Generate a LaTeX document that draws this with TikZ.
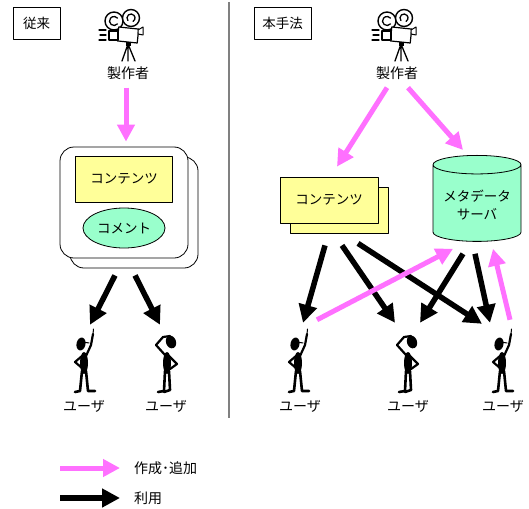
\documentclass[tikz,border=0pt]{standalone}
\usepackage{fontspec}
\setmainfont{Noto Sans CJK JP}
\usetikzlibrary{arrows.meta,shapes.geometric}
\definecolor{makepink}{RGB}{255,112,255}
\definecolor{notepaper}{RGB}{255,255,153}
\definecolor{mint}{RGB}{153,255,204}

\begin{document}
\begin{tikzpicture}[x=1pt,y=-1pt,line join=round,line cap=round]
	\tikzset{every node/.style={font=\fontsize{13.5}{18}\selectfont},
		tag/.style={draw,line width=0.8pt,minimum height=32pt,inner sep=2pt},
		lbl/.style={inner sep=1pt,font=\fontsize{14}{18}\selectfont},
		doc/.style={draw,line width=0.8pt,fill=notepaper,minimum width=98pt,minimum height=46pt},
		card/.style={draw,line width=0.8pt,fill=white,rounded corners=14pt,minimum width=128pt,minimum height=111pt},
		spot/.style={inner sep=0pt,minimum width=24pt,minimum height=62pt},
		makearrow/.style={draw=makepink,line width=5pt,line cap=butt,-{Triangle[length=17pt,width=17pt]}},
		usearrow/.style={draw=black,line width=5.5pt,line cap=butt,-{Triangle[length=18pt,width=18pt]}},
		camera/.pic={
			\draw[line width=1.4pt,fill=white] (-14,-14) circle (9);
			\draw[line width=1.4pt,fill=white] (3,-17) circle (8.5);
			\draw[line width=1.3pt] (-14,-14) ++(40:4.5) arc[start angle=40,end angle=320,radius=4.5];
			\draw[line width=1.3pt] (3,-17) ++(140:4) arc[start angle=140,end angle=420,radius=4];
			\draw[line width=1.2pt,fill=white,rotate around={-6:(0,0)}] (-10,-7) rectangle (10,7);
			\draw[line width=1.2pt,fill=white] (-19,-4) rectangle (-10,5);
			\draw[line width=1.2pt] (-29,-5) -- (-22,-5) (-28,0) -- (-22,0) (-29,5) -- (-22,5);
			\draw[line width=1pt,fill=white] (10,-5) -- (15,-8) -- (15,0) -- (10,-1) -- cycle;
			\fill (-2,7) rectangle (3,11);
			\draw[line width=1.3pt] (0,9) -- (-6,26) (0,9) -- (0,26) (0,9) -- (7,26);
		},
		pointer/.pic={
			\fill (0,0) ellipse (4 and 11);
			\fill[rotate around={-12:(-3,-19)}] (-3,-19) ellipse (4.5 and 6.5);
			\draw[line width=1pt] (-1,-21) -- (5,-20);
			\draw[line width=2.2pt] (2,-7) -- (7,-18) -- (9,-29);
			\draw[line width=1pt] (9,-29) -- (9.5,-34);
			\draw[line width=2.2pt] (-2,-7) -- (-9,-1) -- (-2,5);
			\draw[line width=2.6pt] (-2,8) -- (-4,28) -- (-9,29);
			\draw[line width=2.6pt] (2,8) -- (4,28) -- (11,28);
		},
		thinker/.pic={
			\fill (0,0) ellipse (4 and 11);
			\fill[rotate around={20:(4,-21)}] (4,-21) ellipse (5 and 6.5);
			\draw[line width=2.2pt] (-2,-8) -- (-11,-18) -- (-4,-26) -- (3,-27);
			\draw[line width=2.2pt] (2,-7) -- (10,1) -- (3,6);
			\draw[line width=2.6pt] (-2,8) -- (-3,28) -- (-9,29);
			\draw[line width=2.6pt] (2,8) -- (3,27) -- (-3,29);
		}}
	\useasboundingbox (0,0) rectangle (529,508);

	% divider between the two halves
	\draw[gray,line width=1.2pt,line cap=butt] (229,2) -- (229,418);

	% ---- left half ----
	\node[tag,minimum width=47pt] (oldtag) at (36.5,23) {従来};
	\pic at (128,35) {camera};
	\node[lbl] (crL) at (128,73) {製作者};
	\node[card] (boxL2) at (134,212.5) {};
	\node[card] (boxL) at (124,202.5) {};
	\node[draw,line width=0.8pt,fill=notepaper,minimum width=97pt,minimum height=46pt] (docL) at (124,179) {コンテンツ};
	\node[draw,line width=0.8pt,fill=mint,ellipse,minimum width=82pt,minimum height=40pt,inner sep=0pt] (noteL) at (124,228) {コメント};
	\node[spot] (uL1) at (84,363) {};
	\node[spot] (uL2) at (167,363) {};
	\pic at (uL1) {pointer};
	\pic at (uL2) {thinker};
	\node[lbl] at (84,406) {ユーザ};
	\node[lbl] at (166,406) {ユーザ};

	\draw[makearrow] ([xshift=-2pt,yshift=-7pt]crL.south) -- ([xshift=2pt,yshift=5pt]boxL.north);
	\draw[usearrow] ([xshift=-19pt,yshift=-7pt]boxL2.south) -- ([xshift=6pt,yshift=7pt]uL1.north);
	\draw[usearrow] ([xshift=1pt,yshift=-7pt]boxL2.south) -- ([xshift=-7pt,yshift=7pt]uL2.north);

	% ---- right half ----
	\node[tag,minimum width=57pt] (newtag) at (282.5,23) {本手法};
	\pic at (401,35) {camera};
	\node[lbl] (crR) at (397,73) {製作者};
	\node[doc] (contR2) at (339,210) {};
	\node[doc] (contR) at (329,200) {コンテンツ};
	\node[cylinder,shape border rotate=90,aspect=0.25,draw,line width=0.8pt,fill=mint,
		minimum width=88pt,minimum height=86pt,align=center] (db) at (477,205) {メタデータ\\サーバ};
	\node[spot] (uR1) at (298,363) {};
	\node[spot] (uR2) at (408,363) {};
	\node[spot] (uR3) at (502,363) {};
	\pic at (uR1) {pointer};
	\pic at (uR2) {thinker};
	\pic at (uR3) {pointer};
	\node[lbl] at (300,406) {ユーザ};
	\node[lbl] at (408,406) {ユーザ};
	\node[lbl] at (503,406) {ユーザ};

	\draw[makearrow] ([xshift=-10pt,yshift=-7pt]crR.south) -- ([xshift=8pt,yshift=10pt]contR.north);
	\draw[makearrow] ([xshift=11pt,yshift=-7pt]crR.south) -- ([xshift=-14pt,yshift=5pt]db.north);
	\draw[usearrow] ([xshift=-14pt,yshift=-12pt]contR2.south) -- ([xshift=5pt,yshift=9pt]uR1.north);
	\draw[usearrow] ([xshift=3pt,yshift=-12pt]contR2.south) -- ([xshift=-13pt,yshift=9pt]uR2.north);
	\draw[usearrow] ([xshift=19pt,yshift=-10pt]contR2.south) -- ([xshift=-20pt,yshift=8pt]uR3.north);
	\draw[usearrow] ([xshift=-14pt,yshift=-12pt]db.south) -- ([xshift=12pt,yshift=9pt]uR2.north);
	\draw[usearrow] ([xshift=-2pt,yshift=-12pt]db.south) -- ([xshift=-12pt,yshift=9pt]uR3.north);
	\draw[makearrow] ([xshift=19pt,yshift=12pt]uR1.north) -- ([xshift=-24pt,yshift=-7pt]db.south);
	\draw[makearrow] ([xshift=8pt,yshift=12pt]uR3.north) -- ([xshift=16pt,yshift=-7pt]db.south);

	% ---- legend ----
	\node[lbl,anchor=west] (lgMake) at (133,468) {作成･追加};
	\node[lbl,anchor=west] (lgUse) at (133,498) {利用};
	\draw[makearrow] ([xshift=-73pt]lgMake.west) -- ([xshift=-13pt]lgMake.west);
	\draw[usearrow] ([xshift=-73pt]lgUse.west) -- ([xshift=-13pt]lgUse.west);
\end{tikzpicture}
\end{document}
